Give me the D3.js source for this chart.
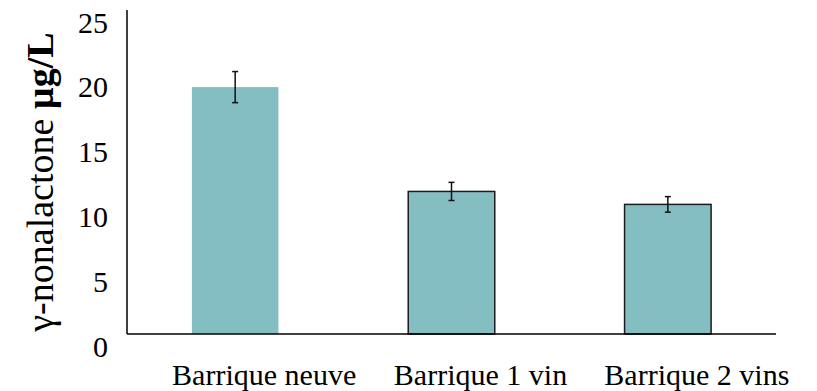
<!DOCTYPE html>
<html>
<head>
<meta charset="utf-8">
<script src="https://cdn.jsdelivr.net/npm/d3@7"></script>
<style>
  html, body { margin: 0; padding: 0; background: #fff; }
  svg { display: block; }
  text { font-family: "Liberation Serif", "Times New Roman", serif; fill: #000; }
</style>
</head>
<body>
<svg id="chart" width="817" height="391"></svg>
<script>
// Barrel categories and measured γ-nonalactone concentrations (µg/L)
const categories = ["Barrique neuve", "Barrique 1 vin", "Barrique 2 vins"];
const means = [19.05, 11.0, 10.0];
const errors = [1.2, 0.7, 0.6];
const yTicks = [0, 5, 10, 15, 20, 25];

const svg = d3.select("#chart");
const plotLeft = 127, plotRight = 776, plotTop = 10, plotBottom = 334;

const x = d3.scaleBand().domain(categories).range([plotLeft, plotRight]).padding(0);
const y = d3.scaleLinear().domain([0, 25]).range([plotBottom, plotTop]);

const barW = x.bandwidth() * 0.4;
const barX = c => x(c) + (x.bandwidth() - barW) / 2;
const mid = c => x(c) + x.bandwidth() / 2;

// bars (first one drawn without outline)
svg.append("g").selectAll("rect")
  .data(categories)
  .join("rect")
  .attr("x", c => barX(c))
  .attr("y", (c, i) => y(means[i]))
  .attr("width", barW)
  .attr("height", (c, i) => y(0) - y(means[i]))
  .attr("fill", "#84bdc2")
  .attr("stroke", (c, i) => i === 0 ? "none" : "#1c1c1c")
  .attr("stroke-width", 1.5);

// error bars
const eb = svg.append("g").attr("stroke", "#111").attr("stroke-width", 1.5).attr("fill", "none");
categories.forEach((c, i) => {
  const cx = mid(c);
  const y1 = y(means[i] + errors[i]), y2 = y(means[i] - errors[i]);
  eb.append("line").attr("x1", cx).attr("x2", cx).attr("y1", y1).attr("y2", y2);
  eb.append("line").attr("x1", cx - 3).attr("x2", cx + 3).attr("y1", y1).attr("y2", y1);
  eb.append("line").attr("x1", cx - 3).attr("x2", cx + 3).attr("y1", y2).attr("y2", y2);
});

// axis lines
svg.append("line").attr("x1", plotLeft).attr("x2", plotLeft).attr("y1", y(25)).attr("y2", y(0))
  .attr("stroke", "#000").attr("stroke-width", 1.5);
svg.append("line").attr("x1", plotLeft).attr("x2", plotRight).attr("y1", y(0)).attr("y2", y(0))
  .attr("stroke", "#000").attr("stroke-width", 1.5);

// y tick labels (sit slightly below their tick value)
svg.append("g").selectAll("text")
  .data(yTicks)
  .join("text")
  .attr("x", 108)
  .attr("y", d => y(d) + 22.5)
  .attr("text-anchor", "end")
  .attr("font-size", 30)
  .text(d => d);

// x category labels
svg.append("g").selectAll("text")
  .data(categories)
  .join("text")
  .attr("x", c => mid(c) + 29)
  .attr("y", 385)
  .attr("text-anchor", "middle")
  .attr("font-size", 30)
  .text(c => c);

// y axis title
const title = svg.append("text")
  .attr("transform", "translate(53,182) rotate(-90)")
  .attr("text-anchor", "middle")
  .attr("font-size", 38);
title.append("tspan").text("γ-nonalactone ");
title.append("tspan").attr("font-weight", "bold").text("µg/L");
</script>
</body>
</html>
